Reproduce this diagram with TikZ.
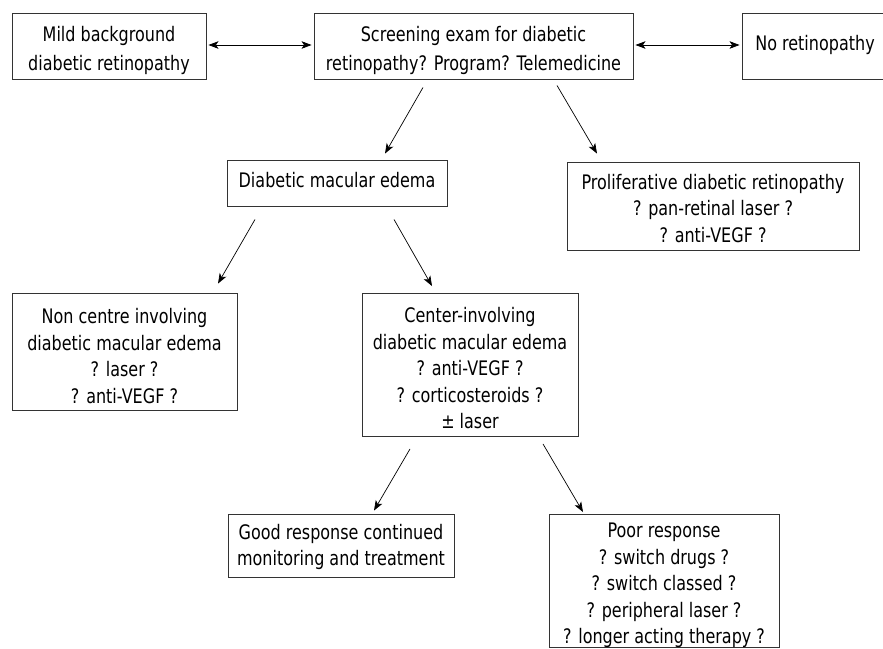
\documentclass[tikz,border=0pt]{standalone}
\usepackage{fontspec}
\setmainfont{DejaVu Sans}[FakeStretch=0.8]
\usetikzlibrary{arrows.meta,calc}
\begin{document}
\begin{tikzpicture}[x=1pt,y=-1pt,
  box/.style={draw=black!80,line width=0.9pt,inner sep=0pt},
  txt/.style={inner sep=0pt,align=center,font=\fontsize{20}{26.5}\selectfont},
  toptxt/.style={txt,font=\fontsize{20}{29}\selectfont},
  arr/.style={-{Stealth[length=10pt,width=7.5pt,inset=2.5pt]},line width=0.7pt},
  darr/.style={{Stealth[length=10pt,width=7.5pt,inset=2.5pt]}-{Stealth[length=10pt,width=7.5pt,inset=2.5pt]},line width=0.7pt}]
\useasboundingbox (0,0) rectangle (883,648);
\clip (0,0) rectangle (883,648);
% boxes
\node[box,minimum width=194pt,minimum height=66pt] (mild) at (109,46) {};
\node[box,minimum width=319pt,minimum height=66pt] (scr) at (473.5,46) {};
\node[box,minimum width=146pt,minimum height=66pt] (nore) at (815,46) {};
\node[box,minimum width=220pt,minimum height=46pt] (dme) at (337,183) {};
\node[box,minimum width=292pt,minimum height=88pt] (pdr) at (713,206) {};
\node[box,minimum width=225pt,minimum height=117pt] (non) at (124.5,351.5) {};
\node[box,minimum width=216pt,minimum height=143pt] (cen) at (470,365) {};
\node[box,minimum width=226pt,minimum height=63pt] (good) at (341,545.5) {};
\node[box,minimum width=230pt,minimum height=133pt] (poor) at (664,581) {};
% texts
\node[toptxt] (mildtxt) at ($(mild)+(0,4)$) {Mild background\\diabetic retinopathy};
\node[toptxt] (scrtxt) at ($(scr)+(0,4)$) {Screening exam for diabetic\\retinopathy? Program? Telemedicine};
\node[toptxt] (noretxt) at ($(nore)+(0,-1)$) {No retinopathy};
\node[txt] (dmetxt) at ($(dme)+(0,-2.5)$) {Diabetic macular edema};
\node[txt] (pdrtxt) at ($(pdr)+(0,2.5)$) {Proliferative diabetic retinopathy\\? pan-retinal laser ?\\? anti-VEGF ?};
\node[txt] (nontxt) at ($(non)+(0,4.5)$) {Non centre involving\\diabetic macular edema\\? laser ?\\? anti-VEGF ?};
\node[txt] (centxt) at ($(cen)+(0,3.5)$) {Center-involving\\diabetic macular edema\\? anti-VEGF ?\\? corticosteroids ?\\± laser};
\node[txt] (goodtxt) at ($(good)+(0,1.5)$) {Good response continued\\monitoring and treatment};
\node[txt] (poortxt) at ($(poor)+(0,4.5)$) {Poor response\\? switch drugs ?\\? switch classed ?\\? peripheral laser ?\\? longer acting therapy ?};
% connectors
\draw[darr] ($(mild.east)+(2,-1)$) -- ($(scr.west)+(-2,-1)$);
\draw[darr] ($(scr.east)+(2,-1)$) -- ($(nore.west)+(-2,-1)$);
\draw[arr] ($(scr.south)+(-50.5,8)$) -- ($(dme.north)+(48,-6)$);
\draw[arr] ($(scr.south)+(83.5,6)$) -- ($(pdr.north)+(-116,-8)$);
\draw[arr] ($(dme.south)+(-82,13)$) -- ($(non.north)+(93.5,-9)$);
\draw[arr] ($(dme.south)+(57,13)$) -- ($(cen.north)+(-38,-7)$);
\draw[arr] ($(cen.south)+(-60,12)$) -- ($(good.north)+(33,-3)$);
\draw[arr] ($(cen.south)+(73,7)$) -- ($(poor.north)+(-81,-2)$);
\end{tikzpicture}
\end{document}
